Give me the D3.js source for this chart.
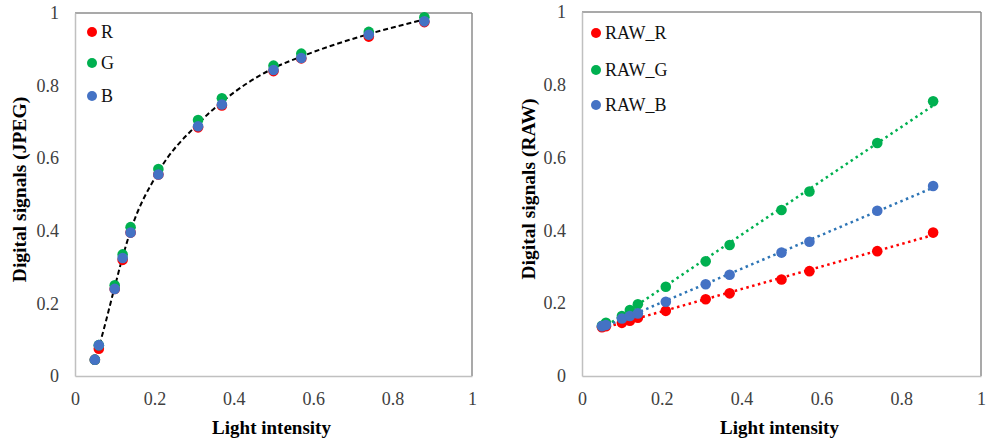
<!DOCTYPE html>
<html>
<head>
<meta charset="utf-8">
<script src="https://cdn.jsdelivr.net/npm/d3@7"></script>
<style>
  body { margin: 0; background: #fff; }
  text { font-family: "Liberation Serif", "Times New Roman", serif; }
</style>
</head>
<body>
<div id="chart"></div>
<script>
// Light intensity (shared x values)
const intensity = [0.05, 0.06, 0.1, 0.12, 0.14, 0.21, 0.31, 0.37, 0.5, 0.57, 0.74, 0.88];

// JPEG digital signals
const jpegR = [0.045, 0.075, 0.24, 0.32, 0.395, 0.555, 0.685, 0.745, 0.84, 0.875, 0.935, 0.975];
const jpegG = [0.045, 0.085, 0.25, 0.335, 0.41, 0.57, 0.705, 0.765, 0.855, 0.888, 0.948, 0.988];
const jpegB = [0.045, 0.085, 0.24, 0.325, 0.395, 0.555, 0.688, 0.748, 0.843, 0.876, 0.94, 0.977];
// dashed curve (fit) through the JPEG points
const jpegFit = [0.045, 0.08, 0.245, 0.328, 0.4, 0.562, 0.695, 0.755, 0.848, 0.88, 0.942, 0.982];

// RAW digital signals
const rawR = [0.134, 0.137, 0.146, 0.152, 0.160, 0.179, 0.211, 0.227, 0.265, 0.288, 0.343, 0.394];
const rawG = [0.138, 0.146, 0.165, 0.181, 0.197, 0.245, 0.315, 0.36, 0.456, 0.507, 0.640, 0.755];
const rawB = [0.137, 0.140, 0.158, 0.165, 0.172, 0.204, 0.252, 0.278, 0.339, 0.369, 0.454, 0.522];

const ticks = [0, 0.2, 0.4, 0.6, 0.8, 1];

const W = 988, H = 441;
const svg = d3.select("#chart").append("svg").attr("width", W).attr("height", H);

function panel(opts) {
    const { left, right, top, bottom, yTitle, titleX, series, legend } = opts;

    const x = d3.scaleLinear().domain([0, 1]).range([left, right]);
    const y = d3.scaleLinear().domain([0, 1]).range([bottom, top]);

    const g = svg.append("g");

    // plot area border (left/bottom lighter, top/right darker)
    g.append("line").attr("x1", left).attr("x2", right).attr("y1", top).attr("y2", top)
        .attr("stroke", "#8c8c8c").attr("stroke-width", 1.5);
    g.append("line").attr("x1", right).attr("x2", right).attr("y1", top).attr("y2", bottom)
        .attr("stroke", "#8c8c8c").attr("stroke-width", 1.5);

    const xAxis = g.append("g").attr("transform", `translate(0,${bottom})`)
        .call(d3.axisBottom(x).tickValues(ticks).tickSize(0).tickPadding(16).tickFormat(d3.format("")));
    const yAxis = g.append("g").attr("transform", `translate(${left},0)`)
        .call(d3.axisLeft(y).tickValues(ticks).tickSize(0).tickPadding(16).tickFormat(d3.format("")));
    [xAxis, yAxis].forEach(a => {
        a.select(".domain").attr("stroke", "#c0c0c0").attr("stroke-width", 1.5);
        a.selectAll("text").attr("font-size", 18).attr("fill", "#404040")
            .attr("font-family", "Liberation Serif, Times New Roman, serif");
    });

    // axis titles
    g.append("text")
        .attr("x", (left + right) / 2 - 2)
        .attr("y", bottom + 58)
        .attr("text-anchor", "middle")
        .attr("font-size", 19).attr("font-weight", "bold")
        .text("Light intensity");
    g.append("text")
        .attr("transform", `translate(${titleX},${(top + bottom) / 2 - 5}) rotate(-90)`)
        .attr("text-anchor", "middle")
        .attr("font-size", 19.5).attr("font-weight", "bold")
        .text(yTitle);

    const line = d3.line().x(d => x(d[0])).y(d => y(d[1]));

    // lines first
    series.forEach(s => {
        if (!s.line) return;
        g.append("path")
            .datum(s.line)
            .attr("d", line.curve(s.curve || d3.curveLinear))
            .attr("fill", "none")
            .attr("stroke", s.lineColor)
            .attr("stroke-width", s.lineWidth)
            .attr("stroke-dasharray", s.dash);
    });

    // markers
    series.forEach(s => {
        g.append("g").selectAll("circle")
            .data(s.points)
            .enter().append("circle")
            .attr("cx", d => x(d[0]))
            .attr("cy", d => y(d[1]))
            .attr("r", 5.3)
            .attr("fill", s.color);
    });

    // legend
    const lg = g.append("g");
    legend.items.forEach((it, i) => {
        const yy = legend.y[i];
        lg.append("circle").attr("cx", legend.x).attr("cy", yy).attr("r", 5).attr("fill", it.color);
        lg.append("text").attr("x", legend.x + 9).attr("y", yy).attr("dy", "0.35em")
            .attr("font-size", 18).attr("fill", "#111").text(it.name);
    });
}

const zip = vals => intensity.map((v, i) => [v, vals[i]]);

// linear least-squares trendline from min to max x
function trend(vals) {
    const n = intensity.length;
    const mx = d3.mean(intensity), my = d3.mean(vals);
    let sxy = 0, sxx = 0;
    for (let i = 0; i < n; i++) {
        sxy += (intensity[i] - mx) * (vals[i] - my);
        sxx += (intensity[i] - mx) * (intensity[i] - mx);
    }
    const b = sxy / sxx, a = my - b * mx;
    const [x0, x1] = d3.extent(intensity);
    return [[x0, a + b * x0], [x1, a + b * x1]];
}

const cR = "#ff0000", cG = "#00b050", cB = "#4472c4";

panel({
    left: 75, right: 472, top: 13, bottom: 376,
    yTitle: "Digital signals (JPEG)", titleX: 26,
    series: [
        { points: zip(jpegR), color: cR },
        { points: zip(jpegG), color: cG },
        { points: zip(jpegB), color: cB },
        { points: [], line: zip(jpegFit), lineColor: "#000", lineWidth: 2, dash: "5,3", curve: d3.curveMonotoneX }
    ],
    legend: { x: 92, y: [32, 63, 96], items: [
        { name: "R", color: cR }, { name: "G", color: cG }, { name: "B", color: cB }] }
});

panel({
    left: 582, right: 981, top: 12, bottom: 376,
    yTitle: "Digital signals (RAW)", titleX: 535,
    series: [
        { points: zip(rawR), color: cR, line: trend(rawR), lineColor: "#ff0000", lineWidth: 2.5, dash: "2.5,3.5" },
        { points: zip(rawG), color: cG, line: trend(rawG), lineColor: "#00b050", lineWidth: 2.5, dash: "2.5,3.5" },
        { points: zip(rawB), color: cB, line: trend(rawB), lineColor: "#2e75b6", lineWidth: 2.5, dash: "2.5,3.5" }
    ],
    legend: { x: 596, y: [33, 70, 105], items: [
        { name: "RAW_R", color: cR }, { name: "RAW_G", color: cG }, { name: "RAW_B", color: cB }] }
});
</script>
</body>
</html>
